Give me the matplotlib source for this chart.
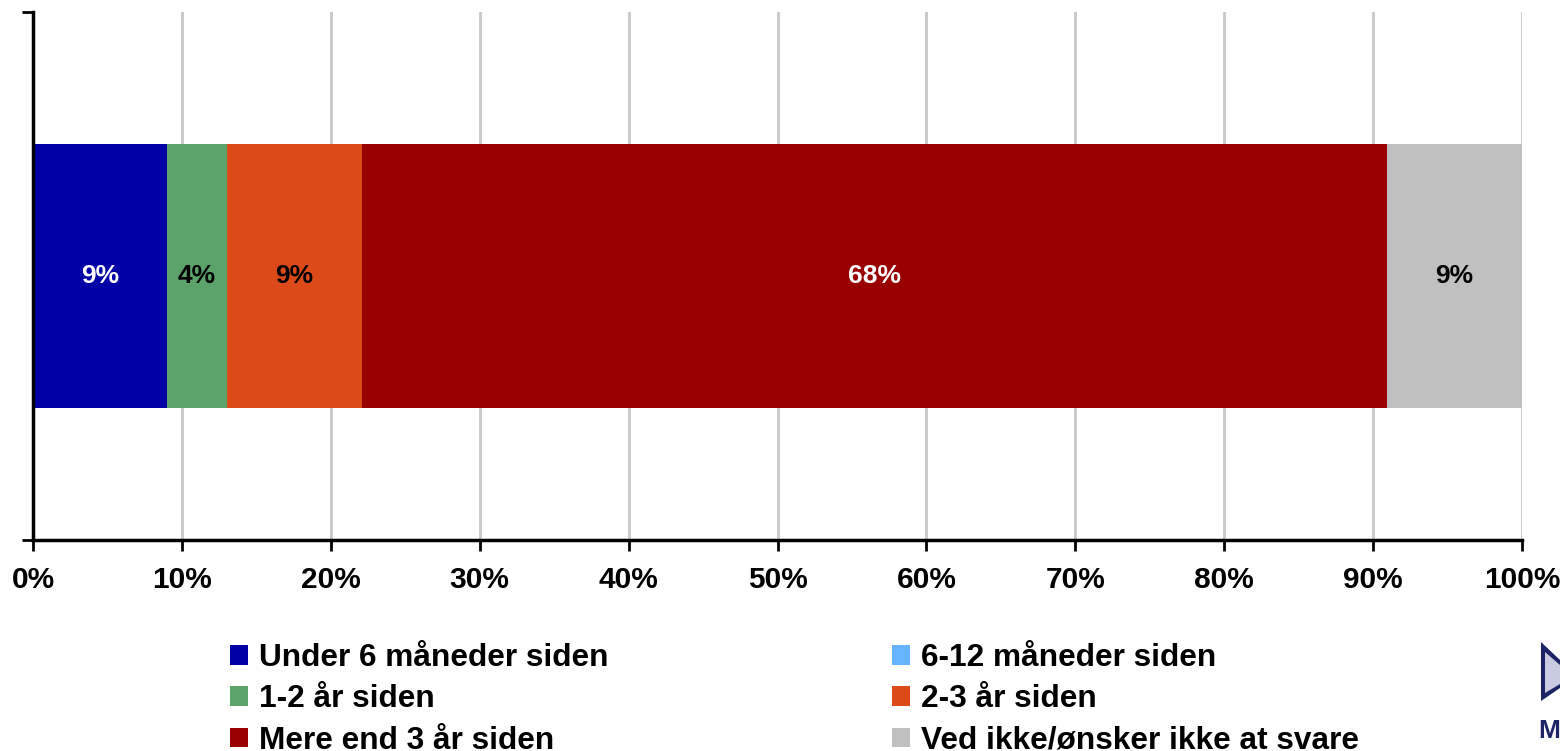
import numpy as np
import matplotlib.pyplot as plt
from matplotlib.patches import Polygon, Patch

plt.rcParams['font.family'] = ['Liberation Sans', 'DejaVu Sans']
plt.rcParams['font.weight'] = 'bold'

# data
categories = ["Under 6 måneder siden", "6-12 måneder siden", "1-2 år siden",
              "2-3 år siden", "Mere end 3 år siden", "Ved ikke/ønsker ikke at svare"]
values = [9.0, 0.0, 4.0, 9.1, 68.8, 9.1]
value_labels = ["9%", "", "4%", "9%", "68%", "9%"]
colors = ["#0000A6", "#66B3FF", "#5BA36A", "#DC4A1A", "#990000", "#C0C0C0"]
label_colors = ["white", "black", "black", "black", "white", "black"]
xticks = np.arange(0, 101, 10)

fig = plt.figure(figsize=(15.6, 7.51), dpi=100)
ax = fig.add_axes([33/1560, 1-540/751, (1522-33)/1560, 528/751])

left = 0
for v, c, lab, lc in zip(values, colors, value_labels, label_colors):
    ax.barh(0, v, left=left, height=0.5, color=c, zorder=3)
    if v > 0:
        ax.text(left + v/2, 0, lab, ha='center', va='center', color=lc,
                fontsize=19, fontweight='bold', zorder=4)
    left += v

ax.set_xlim(0, 100)
ax.set_ylim(-0.5, 0.5)
ax.set_xticks(xticks)
ax.set_xticklabels([f"{t}%" for t in xticks], fontsize=21.5, fontweight='bold')
ax.set_yticks([-0.5, 0.5])
ax.set_yticklabels([])
ax.tick_params(axis='x', direction='out', length=8, width=2, pad=11)
ax.tick_params(axis='y', direction='out', length=8, width=2)
ax.grid(axis='x', color='#C8C8C8', linewidth=2, zorder=0)
for s in ['top', 'right']:
    ax.spines[s].set_visible(False)
for s in ['left', 'bottom']:
    ax.spines[s].set_linewidth(2.5)
    ax.spines[s].set_zorder(5)

# legend, filled row-wise
order = [0, 2, 4, 1, 3, 5]
handles = [Patch(facecolor=colors[i], edgecolor='none') for i in order]
labels = [categories[i] for i in order]
fig.legend(handles, labels, ncol=2, loc='upper left',
           bbox_to_anchor=(230/1560, 1-643/751), frameon=False,
           prop={'size': 22.8, 'weight': 'bold'}, handlelength=0.58,
           handleheight=0.58, handletextpad=0.33, columnspacing=8.95,
           labelspacing=0.36, borderpad=0, borderaxespad=0)

# partial logo at the bottom right
fig.patches.append(Polygon([(1541/1560, 1-642/751), (1560/1560, 1-660/751),
                            (1560/1560, 1-688/751), (1541/1560, 1-701/751)],
                           closed=True, transform=fig.transFigure,
                           facecolor='#1C2466', edgecolor='none'))
fig.patches.append(Polygon([(1545/1560, 1-652/751), (1560/1560, 1-665/751),
                            (1560/1560, 1-684/751), (1545/1560, 1-693/751)],
                           closed=True, transform=fig.transFigure,
                           facecolor='#C9CBE0', edgecolor='none'))
fig.text(1538/1560, 1-731/751, "M", color='#1C2466', fontsize=19,
         fontweight='bold', va='center', ha='left')

fig.savefig("out.png", dpi=100)
